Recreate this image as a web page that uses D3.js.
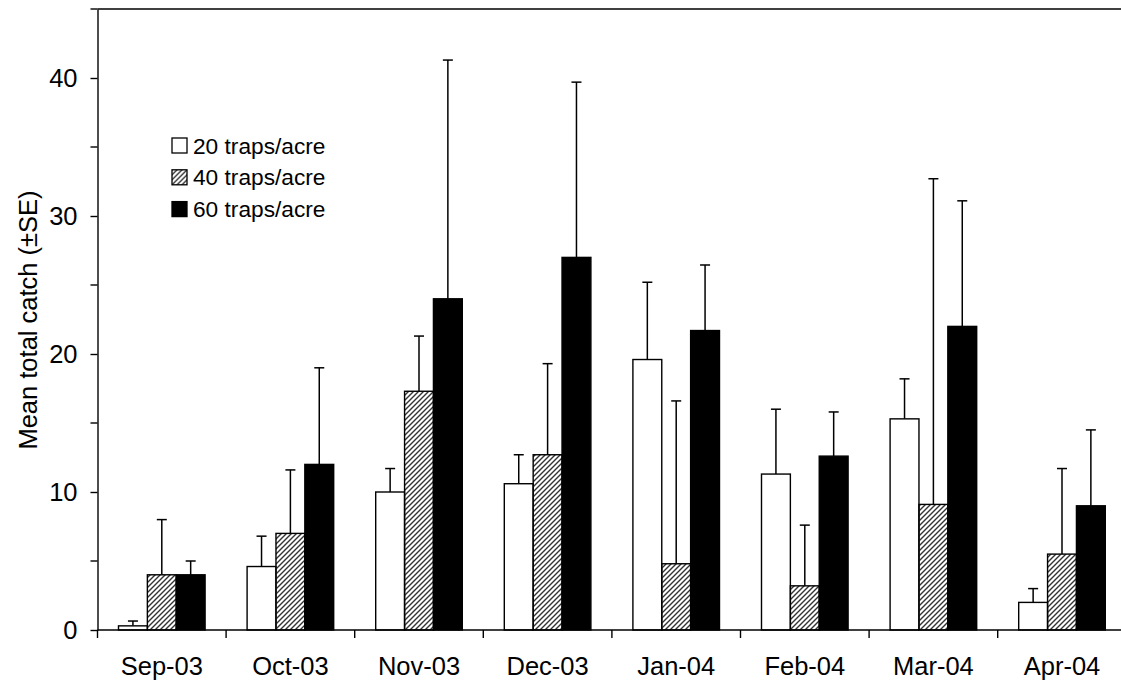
<!DOCTYPE html>
<html>
<head>
<meta charset="utf-8">
<script src="https://cdn.jsdelivr.net/npm/d3@7"></script>
<style>
  body { margin: 0; background: #fff; }
  svg { display: block; font-family: "Liberation Sans", Arial, sans-serif; }
</style>
</head>
<body>
<svg id="chart" width="1121" height="687"></svg>
<script>
// data
const months = ["Sep-03", "Oct-03", "Nov-03", "Dec-03", "Jan-04", "Feb-04", "Mar-04", "Apr-04"];
const seriesNames = ["20 traps/acre", "40 traps/acre", "60 traps/acre"];
const mean20 = [0.3, 4.6, 10.0, 10.6, 19.6, 11.3, 15.3, 2.0];
const se20   = [0.35, 2.2, 1.7, 2.1, 5.6, 4.7, 2.9, 1.0];
const mean40 = [4.0, 7.0, 17.3, 12.7, 4.8, 3.2, 9.1, 5.5];
const se40   = [4.0, 4.6, 4.0, 6.6, 11.8, 4.4, 23.6, 6.2];
const mean60 = [4.0, 12.0, 24.0, 27.0, 21.7, 12.6, 22.0, 9.0];
const se60   = [1.0, 7.0, 17.3, 12.7, 4.75, 3.2, 9.1, 5.5];
const yTicks = [0, 10, 20, 30, 40];
const yMinorTicks = [5, 15, 25, 35, 45];

const svg = d3.select("#chart");
const width = +svg.attr("width");
const margin = { top: 9, left: 97.5, bottom: 57 };
const y0 = 630;

const means = [mean20, mean40, mean60];
const ses = [se20, se40, se60];
const rows = [];
months.forEach((m, i) => {
  seriesNames.forEach((s, j) => {
    rows.push({ month: m, series: s, idx: j, mean: means[j][i], se: ses[j][i] });
  });
});

const x0 = d3.scaleBand().domain(months).range([margin.left, margin.left + 128.6 * months.length]).padding(0);
const x1 = d3.scaleBand().domain(seriesNames).range([21, 107.6]).padding(0);
const y = d3.scaleLinear().domain([0, 45]).range([y0, margin.top]);

// hatch pattern
const defs = svg.append("defs");
defs.append("pattern")
    .attr("id", "hatch")
    .attr("patternUnits", "userSpaceOnUse")
    .attr("width", 5)
    .attr("height", 5)
  .append("path")
    .attr("d", "M-1,1 l2,-2 M0,5 l5,-5 M4,6 l2,-2")
    .attr("stroke", "#333")
    .attr("stroke-width", 1.4);

const fills = { "20 traps/acre": "#fff", "40 traps/acre": "url(#hatch)", "60 traps/acre": "#000" };

// top frame line
svg.append("line")
    .attr("x1", margin.left).attr("x2", width)
    .attr("y1", y(45)).attr("y2", y(45))
    .attr("stroke", "#000").attr("stroke-width", 1.4);

// error bars (upper only)
const err = svg.append("g").attr("class", "errors");
rows.forEach(d => {
  const cx = x0(d.month) + x1(d.series) + x1.bandwidth() / 2;
  err.append("line")
      .attr("x1", cx).attr("x2", cx)
      .attr("y1", y(d.mean)).attr("y2", y(d.mean + d.se))
      .attr("stroke", "#000").attr("stroke-width", 1.5);
  err.append("line")
      .attr("x1", cx - 5).attr("x2", cx + 5)
      .attr("y1", y(d.mean + d.se)).attr("y2", y(d.mean + d.se))
      .attr("stroke", "#000").attr("stroke-width", 1.5);
});

// bars
svg.append("g").selectAll("rect")
  .data(rows)
  .join("rect")
    .attr("x", d => x0(d.month) + x1(d.series))
    .attr("y", d => y(d.mean))
    .attr("width", x1.bandwidth())
    .attr("height", d => y(0) - y(d.mean))
    .attr("fill", d => fills[d.series])
    .attr("stroke", "#000")
    .attr("stroke-width", 1.4);

// y axis
const yAxis = svg.append("g")
    .attr("transform", "translate(" + margin.left + ",0)")
    .call(d3.axisLeft(y).tickValues(yTicks).tickSize(7).tickPadding(13).tickSizeOuter(0));
yAxis.append("g").selectAll("line")
  .data(yMinorTicks)
  .join("line")
    .attr("x1", -7).attr("x2", 0)
    .attr("y1", d => y(d)).attr("y2", d => y(d))
    .attr("stroke", "#000");
yAxis.selectAll("text").style("font-size", "25.5px").attr("fill", "#000");
yAxis.selectAll("line, path").attr("stroke", "#000").attr("stroke-width", 1.4);

// x axis
const xAxis = svg.append("g")
    .attr("transform", "translate(0," + y0 + ")")
    .call(d3.axisBottom(x0).tickSize(0).tickPadding(27).tickSizeOuter(0));
xAxis.select(".domain").remove();
xAxis.append("line")
    .attr("x1", margin.left).attr("x2", width)
    .attr("y1", 0).attr("y2", 0)
    .attr("stroke", "#000").attr("stroke-width", 1.4);
xAxis.append("g").selectAll("line")
  .data(months.concat(["end"]))
  .join("line")
    .attr("x1", d => d === "end" ? x0.range()[1] : x0(d))
    .attr("x2", d => d === "end" ? x0.range()[1] : x0(d))
    .attr("y1", 0).attr("y2", 8)
    .attr("stroke", "#000").attr("stroke-width", 1.4);
xAxis.selectAll("text").style("font-size", "25.5px").attr("fill", "#000");

// y label
svg.append("text")
    .attr("transform", "translate(37,320) rotate(-90)")
    .attr("text-anchor", "middle")
    .style("font-size", "25.5px")
    .text("Mean total catch (±SE)");

// legend
const legend = svg.append("g").attr("transform", "translate(172,138)");
seriesNames.forEach((s, i) => {
  const g = legend.append("g").attr("transform", "translate(0," + (i * 31.8) + ")");
  g.append("rect")
      .attr("width", 15).attr("height", 15)
      .attr("fill", fills[s])
      .attr("stroke", "#000")
      .attr("stroke-width", 1.3);
  g.append("text")
      .attr("x", 21)
      .attr("y", 15.5)
      .style("font-size", "22.7px")
      .text(s);
});
</script>
</body>
</html>
